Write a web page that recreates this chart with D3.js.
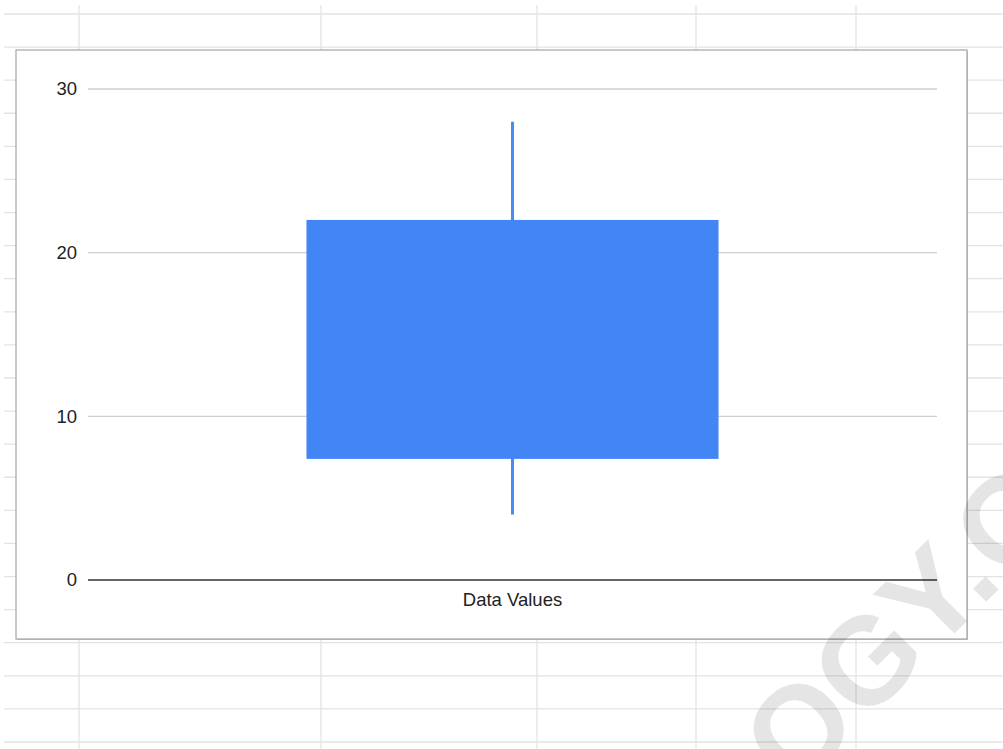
<!DOCTYPE html>
<meta charset="utf-8">
<style>
body { margin: 0; background: #fff; }
svg { display: block; font-family: Arial, "Liberation Sans", sans-serif; }
.grid line { stroke: #cfcfcf; stroke-width: 1.3; }
.sheet line { stroke: #e3e3e3; stroke-width: 1.3; }
.tick-label { fill: #222; font-size: 18.5px; }
</style>
<svg width="1003" height="749"></svg>
<script src="https://d3js.org/d3.v7.min.js"></script>
<script>
// data
var categories = ['Data Values'];
var lowValues = [4];
var q1Values = [7.4];
var q3Values = [22];
var highValues = [28];
var yTicks = [0, 10, 20, 30];

var svgElem = d3.select('svg');
var W = +svgElem.attr('width');
var H = +svgElem.attr('height');

// spreadsheet cells behind the chart
var rowLines = d3.range(0, 23).map(function (i) { return 14 + i * 33.09; });
var colLines = [79, 321, 537, 696, 856];
var sheet = svgElem.append('g').attr('class', 'sheet');
sheet.selectAll('.row').data(rowLines).enter().append('line')
  .attr('x1', 4).attr('x2', W)
  .attr('y1', function (d) { return d; }).attr('y2', function (d) { return d; });
sheet.selectAll('.col').data(colLines).enter().append('line')
  .attr('x1', function (d) { return d; }).attr('x2', function (d) { return d; })
  .attr('y1', 5).attr('y2', H);

// chart box
var box = { left: 16, top: 50, right: 967, bottom: 639 };
svgElem.append('rect')
  .attr('x', box.left + 1).attr('y', box.top + 1)
  .attr('width', box.right - box.left).attr('height', box.bottom - box.top)
  .attr('fill', '#c8c8c8');
svgElem.append('rect')
  .attr('x', box.left).attr('y', box.top)
  .attr('width', box.right - box.left).attr('height', box.bottom - box.top)
  .attr('fill', '#fff').attr('stroke', '#a4a4a4').attr('stroke-width', 1.2);

var plot = { left: 88, right: 937, top: 89, bottom: 580 };
var x = d3.scaleBand().domain(categories).range([plot.left, plot.right]).padding(0.3465);
var y = d3.scaleLinear().domain([0, 30]).range([plot.bottom, plot.top]);

var g = svgElem.append('g');

// gridlines
g.append('g').attr('class', 'grid')
  .selectAll('line').data(yTicks.filter(function (d) { return d !== 0; })).enter().append('line')
  .attr('x1', plot.left).attr('x2', plot.right)
  .attr('y1', function (d) { return y(d); }).attr('y2', function (d) { return y(d); });

// y tick labels
g.selectAll('.ylab').data(yTicks).enter().append('text')
  .attr('class', 'tick-label')
  .attr('x', 77)
  .attr('y', function (d) { return y(d); })
  .attr('dy', '0.35em')
  .attr('text-anchor', 'end')
  .text(function (d) { return d; });

var rows = categories.map(function (c, i) {
  return { name: c, low: lowValues[i], q1: q1Values[i], q3: q3Values[i], high: highValues[i] };
});

// whiskers
g.selectAll('.whisker').data(rows).enter().append('line')
  .attr('x1', function (d) { return x(d.name) + x.bandwidth() / 2; })
  .attr('x2', function (d) { return x(d.name) + x.bandwidth() / 2; })
  .attr('y1', function (d) { return y(d.high); })
  .attr('y2', function (d) { return y(d.low); })
  .attr('stroke', '#4a8af4').attr('stroke-width', 3);

// boxes
g.selectAll('.bar').data(rows).enter().append('rect')
  .attr('x', function (d) { return x(d.name); })
  .attr('y', function (d) { return y(d.q3); })
  .attr('width', x.bandwidth())
  .attr('height', function (d) { return y(d.q1) - y(d.q3); })
  .attr('fill', '#4285f4');

// baseline
g.append('line')
  .attr('x1', plot.left).attr('x2', plot.right)
  .attr('y1', y(0)).attr('y2', y(0))
  .attr('stroke', '#333').attr('stroke-width', 1.6);

// category labels
g.selectAll('.xlab').data(categories).enter().append('text')
  .attr('class', 'tick-label')
  .attr('x', function (d) { return x(d) + x.bandwidth() / 2; })
  .attr('y', 600)
  .attr('dy', '0.35em')
  .attr('text-anchor', 'middle')
  .text(function (d) { return d; });

// watermark
var wm = svgElem.append('g')
  .attr('transform', 'translate(795,793) rotate(-45)')
  .attr('fill', '#000').attr('fill-opacity', 0.1)
  .style('font-weight', 'bold').style('font-size', '124px');
wm.append('text').attr('text-anchor', 'end').text('STATOL');
wm.append('text').attr('text-anchor', 'start').text('OGY.ORG');
</script>
